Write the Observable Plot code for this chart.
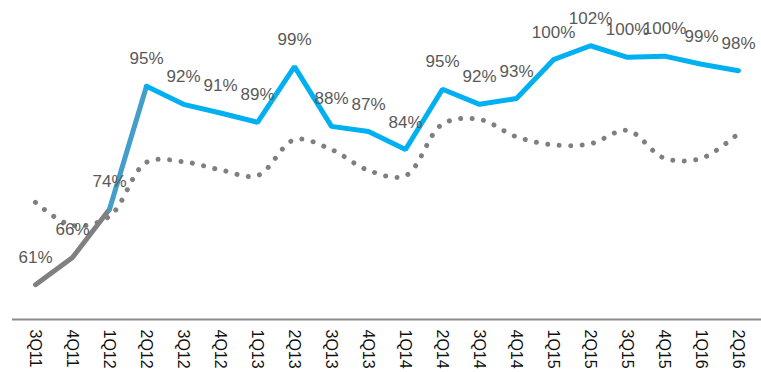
<!DOCTYPE html>
<html><head><meta charset="utf-8">
<script src="https://cdn.jsdelivr.net/npm/d3@7"></script>
<script src="https://cdn.jsdelivr.net/npm/@observablehq/plot@0.6"></script>
<style>html,body{margin:0;padding:0;background:#fff;}</style>
</head><body><div id="chart"></div>
<script>
const quarters = ["3Q11","4Q11","1Q12","2Q12","3Q12","4Q12","1Q13","2Q13","3Q13","4Q13","1Q14","2Q14","3Q14","4Q14","1Q15","2Q15","3Q15","4Q15","1Q16","2Q16"];
const actual = [61.0,65.7,74.0,95.2,92.1,90.6,89.0,98.6,88.3,87.4,84.3,94.7,92.1,93.1,99.8,102.2,100.2,100.4,99.0,97.9];
const actualLabels = ["61%","66%","74%","95%","92%","91%","89%","99%","88%","87%","84%","95%","92%","93%","100%","102%","100%","100%","99%","98%"];
const trend = [75.2,71.2,72.8,82.1,82.2,80.8,79.8,86.0,84.3,80.7,79.8,88.7,89.5,86.5,85.1,85.3,87.6,82.8,82.8,87.1];

const main = quarters.map((q, i) => ({q, v: actual[i], label: actualLabels[i]}));
const dotted = quarters.map((q, i) => ({q, v: trend[i]}));

const lineStyle = {x: "q", y: "v", strokeWidth: 5, strokeLinecap: "round", strokeLinejoin: "miter"};

const chart = Plot.plot({
  width: 761,
  height: 372,
  marginLeft: 12,
  marginRight: 0,
  marginTop: 0,
  marginBottom: 53,
  style: {fontFamily: "'Liberation Sans', Arial, sans-serif", background: "#fff"},
  x: {type: "point", domain: quarters, padding: 0.5},
  y: {domain: [55, 110], axis: null},
  marks: [
    Plot.ruleY([55], {stroke: "#8c8c8c", strokeWidth: 2}),
    Plot.axisX({tickRotate: 90, tickSize: 0, tickPadding: 10, fontSize: 16, fill: "#111", label: null}),
    Plot.line(dotted, {x: "q", y: "v", curve: "catmull-rom", stroke: "#7f7f7f", strokeWidth: 5, strokeLinecap: "round", strokeDasharray: "0.01 11.5"}),
    Plot.line(main.slice(0, 3), {...lineStyle, stroke: "#808080"}),
    Plot.line(main.slice(2, 4), {...lineStyle, stroke: "#439ecb"}),
    Plot.line(main.slice(3), {...lineStyle, stroke: "#00b0f0"}),
    Plot.text(main, {x: "q", y: "v", text: "label", dy: -22, lineAnchor: "bottom", fontSize: 17, fill: "#595959"})
  ]
});
document.getElementById("chart").appendChild(chart);
</script>
</body></html>
